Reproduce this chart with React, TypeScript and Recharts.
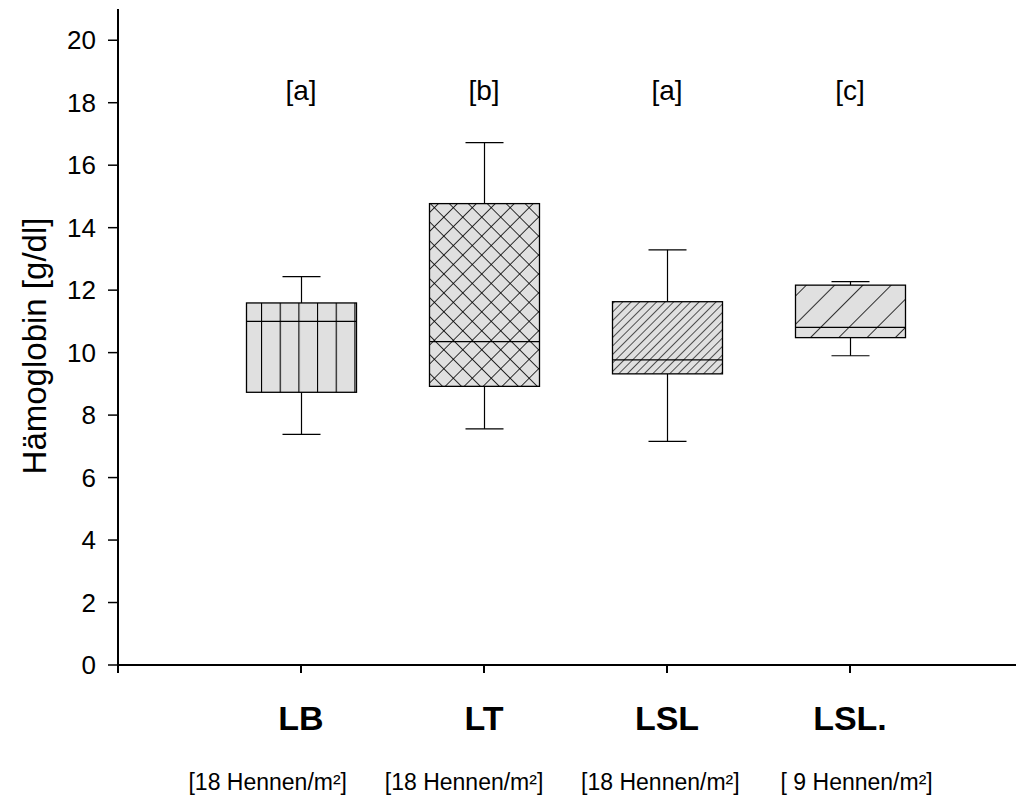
import React from 'react';
import { ComposedChart, Bar, XAxis, YAxis, ReferenceDot } from 'recharts';

// ---- data ----
const categories = ['LB', 'LT', 'LSL', 'LSL.'];
const densities = ['[18 Hennen/m²]', '[18 Hennen/m²]', '[18 Hennen/m²]', '[ 9 Hennen/m²]'];
const letters = ['[a]', '[b]', '[a]', '[c]'];
const positions = [1, 2, 3, 4];
const minValues = [7.38, 7.56, 7.16, 9.9];
const q1Values = [8.73, 8.92, 9.32, 10.48];
const medianValues = [11.0, 10.35, 9.77, 10.81];
const q3Values = [11.59, 14.77, 11.63, 12.16];
const maxValues = [12.43, 16.72, 13.29, 12.27];
const yTicks = [0, 2, 4, 6, 8, 10, 12, 14, 16, 18, 20];
const xTicks = [0, 1, 2, 3, 4, 5];
const letterLevel = 18.4;

const table = categories.map((name, i) => ({
  x: positions[i],
  name,
  density: densities[i],
  min: minValues[i],
  q1: q1Values[i],
  median: medianValues[i],
  q3: q3Values[i],
  max: maxValues[i],
  range: [q1Values[i], q3Values[i]],
}));

// ---- styles ----
const FONT = '"Liberation Sans", Arial, sans-serif';
const PATTERN_IDS = ['pat-vlines', 'pat-cross', 'pat-diag-dense', 'pat-diag-wide'];
const BOX_FILL = '#e0e0e0';
const CAP_HALF = 19;
const DENSITY_SHIFT_STEP = 13.3;

const BoxShape = (props: any) => {
  const { x, y, width, height, payload, index } = props;
  if (!payload) return null;
  const top = Math.min(y, y + height);
  const h = Math.abs(height);
  const k = h / (payload.q3 - payload.q1);
  const cx = x + width / 2;
  const yMed = top + (payload.q3 - payload.median) * k;
  const yMax = top - (payload.max - payload.q3) * k;
  const yMin = top + h + (payload.q1 - payload.min) * k;
  return (
    <g>
      <line x1={cx} x2={cx} y1={yMax} y2={top} stroke="#000" strokeWidth={1.2} />
      <line x1={cx - CAP_HALF} x2={cx + CAP_HALF} y1={yMax} y2={yMax} stroke="#000" strokeWidth={1.2} />
      <line x1={cx} x2={cx} y1={top + h} y2={yMin} stroke="#000" strokeWidth={1.2} />
      <line x1={cx - CAP_HALF} x2={cx + CAP_HALF} y1={yMin} y2={yMin} stroke="#000" strokeWidth={1.2} />
      <rect x={x} y={top} width={width} height={h} fill={BOX_FILL} />
      <rect x={x} y={top} width={width} height={h} fill={`url(#${PATTERN_IDS[index % 4]})`} stroke="#000" strokeWidth={1.3} />
      <line x1={x} x2={x + width} y1={yMed} y2={yMed} stroke="#000" strokeWidth={1.2} />
    </g>
  );
};

const CategoryTick = (props: any) => {
  const { x, y, payload } = props;
  const i = positions.indexOf(payload.value);
  if (i < 0) return null;
  const dx = (i - 2.5) * DENSITY_SHIFT_STEP;
  return (
    <g>
      <text x={x} y={y + 55} textAnchor="middle" fontFamily={FONT} fontWeight="bold" fontSize={34} fill="#000">
        {categories[i]}
      </text>
      <text x={x + dx} y={y + 115} textAnchor="middle" fontFamily={FONT} fontSize={23} fill="#000">
        {densities[i]}
      </text>
    </g>
  );
};

const YLabel = (props: any) => {
  const vb = props.viewBox || {};
  const cy = (vb.y || 0) + (vb.height || 0) / 2 + 9;
  return (
    <text
      x={26}
      y={cy}
      transform={`rotate(-90, 26, ${cy})`}
      textAnchor="middle"
      dominantBaseline="central"
      fontFamily={FONT}
      fontSize={33}
      fill="#000"
    >
      Hämoglobin [g/dl]
    </text>
  );
};

export default function App() {
  return (
    <div style={{ width: 1016, height: 790, overflow: 'hidden', background: '#fff' }}>
      <ComposedChart
        width={1035}
        height={790}
        data={table}
        margin={{ top: 1, right: 10, bottom: 0, left: 0 }}
      >
        <defs>
          <pattern id="pat-vlines" patternUnits="userSpaceOnUse" x={10.3} y={0} width={18.67} height={10}>
            <line x1={0.5} y1={0} x2={0.5} y2={10} stroke="#000" strokeWidth={1.2} />
          </pattern>
          <pattern id="pat-cross" patternUnits="userSpaceOnUse" width={13.4} height={13.4} patternTransform="rotate(45)">
            <line x1={0} y1={0} x2={0} y2={13.4} stroke="#000" strokeWidth={1.6} />
            <line x1={0} y1={0} x2={13.4} y2={0} stroke="#000" strokeWidth={1.6} />
          </pattern>
          <pattern id="pat-diag-dense" patternUnits="userSpaceOnUse" width={6} height={6} patternTransform="rotate(45)">
            <line x1={0} y1={0} x2={0} y2={6} stroke="#000" strokeWidth={1.3} />
          </pattern>
          <pattern id="pat-diag-wide" patternUnits="userSpaceOnUse" width={20} height={20} patternTransform="rotate(45)">
            <line x1={0} y1={0} x2={0} y2={20} stroke="#000" strokeWidth={1.6} />
          </pattern>
        </defs>
        <XAxis
          dataKey="x"
          type="number"
          domain={[0, 5]}
          ticks={xTicks}
          allowDataOverflow
          height={133}
          axisLine={{ stroke: '#000', strokeWidth: 2 }}
          tickLine={{ stroke: '#000', strokeWidth: 2 }}
          tickSize={8}
          tick={<CategoryTick />}
          interval={0}
        />
        <XAxis
          xAxisId="top"
          orientation="top"
          dataKey="x"
          type="number"
          domain={[0, 5]}
          allowDataOverflow
          height={0}
          tick={false}
          tickLine={false}
          axisLine={{ stroke: '#000', strokeWidth: 2 }}
        />
        <YAxis
          type="number"
          domain={[0, 21]}
          ticks={yTicks}
          allowDataOverflow
          width={110}
          interval={0}
          axisLine={{ stroke: '#000', strokeWidth: 2 }}
          tickLine={{ stroke: '#000', strokeWidth: 1.5 }}
          tickSize={10}
          tickMargin={12}
          tick={{ fontFamily: FONT, fontSize: 26, fill: '#000' }}
          label={<YLabel />}
        />
        <Bar dataKey="range" barSize={110} shape={<BoxShape />} isAnimationActive={false} />
        {letters.map((t, i) => (
          <ReferenceDot
            key={i}
            x={positions[i]}
            y={letterLevel}
            r={0}
            fill="none"
            stroke="none"
            ifOverflow="visible"
            label={{ value: t, position: 'center', fontSize: 28, fontFamily: FONT, fill: '#000' }}
          />
        ))}
      </ComposedChart>
    </div>
  );
}
